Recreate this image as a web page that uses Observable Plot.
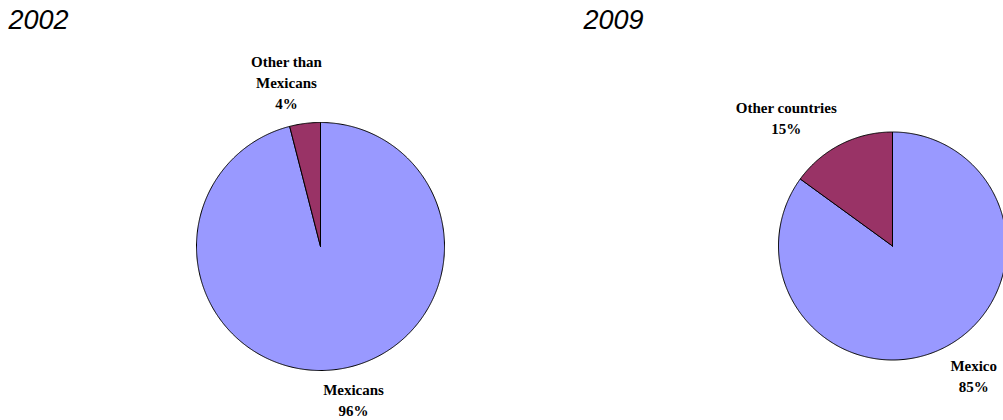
<!DOCTYPE html>
<html><head><meta charset="utf-8">
<script src="https://cdn.jsdelivr.net/npm/d3@7"></script>
<script src="https://cdn.jsdelivr.net/npm/@observablehq/plot@0.6"></script>
<style>body{margin:0;overflow:hidden;background:#fff}
.lbl text{font-family:"Liberation Serif","Times New Roman",serif !important;}
.ttl text{font-family:"Liberation Sans",Arial,sans-serif !important;}
</style>
</head><body><div id="chart"></div>
<script>
// ---- data ----
const years = ["2002", "2009"];
const labels2002 = ["Mexicans", "Other than\nMexicans"];
const values2002 = [96, 4];
const labels2009 = ["Mexico", "Other countries"];
const values2009 = [85, 15];
const sliceColors = ["#9999FF", "#993366"];

// ---- layout (not data) ----
const W = 1003, H = 420;
const pies = [
  {year: years[0], labels: labels2002, values: values2002, cx: 320, cy: 246, r: 124, titleX: 8,
   labelGap: 12, labelNudge: [[16, 17.5], [-17, -30]]},
  {year: years[1], labels: labels2009, values: values2009, cx: 892, cy: 245.5, r: 114, titleX: 583,
   labelGap: 12, labelNudge: [[24, 16.5], [-49, -17]]}
];

const slicePts = [];
const labelRows = [];
const titleRows = [];
pies.forEach((p, pi) => {
  titleRows.push({text: p.year, x: p.titleX, y: 28});
  const arcs = d3.pie().sort(null).value(d => d)(p.values);
  arcs.forEach((a, i) => {
    const id = pi + "-" + i;
    const color = sliceColors[i];
    slicePts.push({id, color, x: p.cx, y: p.cy});
    const steps = Math.max(2, Math.ceil((a.endAngle - a.startAngle) / (Math.PI / 360)));
    for (let k = 0; k <= steps; k++) {
      const t = a.startAngle + (a.endAngle - a.startAngle) * k / steps;
      slicePts.push({id, color, x: p.cx + p.r * Math.sin(t), y: p.cy - p.r * Math.cos(t)});
    }
    slicePts.push({id, color, x: p.cx, y: p.cy});
    const mid = (a.startAngle + a.endAngle) / 2;
    const lr = p.r + p.labelGap;
    labelRows.push({
      text: p.labels[i] + "\n" + p.values[i] + "%",
      x: p.cx + lr * Math.sin(mid) + p.labelNudge[i][0],
      y: p.cy - lr * Math.cos(mid) + p.labelNudge[i][1]
    });
  });
});

const chart = Plot.plot({
  width: W, height: H,
  margin: 0,
  x: {domain: [0, W], range: [0, W], axis: null},
  y: {domain: [0, H], range: [0, H], axis: null},
  color: {type: "identity"},
  style: {background: "#fff"},
  marks: [
    Plot.line(slicePts, {x: "x", y: "y", z: "id", fill: "color", stroke: "#000", strokeWidth: 1, strokeLinejoin: "miter"}),
    Plot.text(labelRows, {x: "x", y: "y", text: "text", textAnchor: "middle", lineAnchor: "middle",
      lineHeight: 1.4, fontSize: 15, fontWeight: "bold", fontFamily: "Liberation Serif", fill: "#000", className: "lbl"}),
    Plot.text(titleRows, {x: "x", y: "y", text: "text", textAnchor: "start", lineAnchor: "bottom",
      fontSize: 27, fontStyle: "italic", fontFamily: "Liberation Sans", fill: "#000", className: "ttl"})
  ]
});
document.getElementById("chart").append(chart);
</script>
</body></html>
